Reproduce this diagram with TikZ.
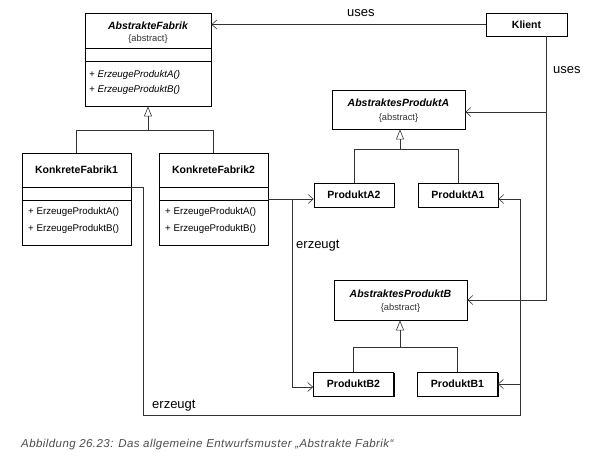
\documentclass[tikz,border=0pt]{standalone}
\usepackage{fontspec}
\setmainfont{Liberation Sans}
\usetikzlibrary{arrows.meta,shadows}
\begin{document}
\begin{tikzpicture}[x=1pt,y=-1pt,
  cls/.style={draw,line width=0.8pt,fill=white,inner sep=0pt},
  shd/.style={cls,drop shadow={shadow xshift=1pt,shadow yshift=-1pt,opacity=1,fill=black}},
  divider/.style={line width=0.8pt},
  title/.style={font=\fontsize{10.5}{12}\selectfont\bfseries,inner sep=0pt},
  stereo/.style={font=\fontsize{9.3}{11}\selectfont,text=black!80,inner sep=0pt},
  oper/.style={font=\fontsize{9.7}{11}\selectfont,anchor=west,inner sep=0pt},
  lbl/.style={font=\fontsize{13}{15}\selectfont,anchor=base west,inner sep=0pt},
  capt/.style={font=\fontsize{11.5}{13}\selectfont\itshape\addfontfeature{LetterSpace=3.7},text=black!70,anchor=base west,inner sep=0pt},
  wire/.style={line width=0.6pt,draw=black!80},
  dep/.style={wire,-{Straight Barb[length=5pt,width=9pt]}},
  gen/.style={wire,-{Triangle[open,length=10pt,width=8pt]}}]
\useasboundingbox (0,0) rectangle (594,470);
\node[cls,minimum width=126pt,minimum height=93pt] (af) at (148,59.5) {};
\node[title] (afname) at (148,26) {\itshape AbstrakteFabrik};
\node[stereo] (afabs) at (148,39) {\{abstract\}};
\draw[divider] (af.west |- 0,48) -- (af.east |- 0,48);
\draw[divider] (af.west |- 0,61) -- (af.east |- 0,61);
\node[oper] (afa) at (89,75) {\itshape + ErzeugeProduktA()};
\node[oper] (afb) at (89,90) {\itshape + ErzeugeProduktB()};
\node[shd,minimum width=109pt,minimum height=92pt] (kf1) at (76.5,199) {};
\node[title] (kf1name) at (76.5,170) {KonkreteFabrik1};
\draw[divider] (kf1.west |- 0,187) -- (kf1.east |- 0,187);
\draw[divider] (kf1.west |- 0,200) -- (kf1.east |- 0,200);
\node[oper] (kf1a) at (28,212) {+ ErzeugeProduktA()};
\node[oper] (kf1b) at (28,229) {+ ErzeugeProduktB()};
\node[cls,minimum width=109pt,minimum height=92pt] (kf2) at (213.5,199) {};
\node[title] (kf2name) at (213.5,170) {KonkreteFabrik2};
\draw[divider] (kf2.west |- 0,187) -- (kf2.east |- 0,187);
\draw[divider] (kf2.west |- 0,200) -- (kf2.east |- 0,200);
\node[oper] (kf2a) at (165,212) {+ ErzeugeProduktA()};
\node[oper] (kf2b) at (165,229) {+ ErzeugeProduktB()};
\node[cls,minimum width=81pt,minimum height=23pt] (kl) at (526.5,24.5) {};
\node[title] (klname) at (526.5,24.5) {Klient};
\node[cls,minimum width=133pt,minimum height=39pt] (apa) at (398.5,109.5) {};
\node[title] (apaname) at (398.5,103) {\itshape AbstraktesProduktA};
\node[stereo] (apaabs) at (398.5,118) {\{abstract\}};
\node[shd,minimum width=80pt,minimum height=24pt] (pa2) at (354,195) {};
\node[title] (pa2name) at (354,195) {ProduktA2};
\node[shd,minimum width=80pt,minimum height=24pt] (pa1) at (458,195) {};
\node[title] (pa1name) at (458,195) {ProduktA1};
\node[cls,minimum width=133pt,minimum height=40pt] (apb) at (400.5,300) {};
\node[title] (apbname) at (400.5,294) {\itshape AbstraktesProduktB};
\node[stereo] (apbabs) at (400.5,308) {\{abstract\}};
\node[shd,minimum width=80pt,minimum height=24pt] (pb2) at (353.5,384) {};
\node[title] (pb2name) at (353.5,384) {ProduktB2};
\node[shd,minimum width=80pt,minimum height=24pt] (pb1) at (457.5,384) {};
\node[title] (pb1name) at (457.5,384) {ProduktB1};
\coordinate (fj) at (148,130);
\coordinate (ga) at (400,149);
\coordinate (gb) at (400,347);
\coordinate (kr) at (546,300);
\coordinate (ka) at (546,112);
\coordinate (e2) at (292,199);
\coordinate (e2b) at (292,387);
\coordinate (e1a) at (143,187);
\coordinate (e1b) at (143,415);
\coordinate (e1c) at (520,415);
\coordinate (e1d) at (520,199);
\coordinate (e1e) at (520,384);
\draw[dep] (kl) -- (kl.west -| af.east);
\draw[dep] (kl.south -| kr) -- (kr) -- (apb.east |- kr);
\draw[dep] (ka) -- (apa.east |- ka);
\draw[wire] (kf1.north) |- (kf2.north |- fj) -- (kf2.north);
\draw[gen] (fj) -- (af.south);
\draw[wire] (pa2.north) |- (pa1.north |- ga) -- (pa1.north);
\draw[gen] (ga) -- (apa.south -| ga);
\draw[wire] (pb2.north) |- (pb1.north |- gb) -- (pb1.north);
\draw[gen] (gb) -- (apb.south -| gb);
\draw[dep] (kf2.east |- e2) -- (pa2.west |- e2);
\draw[dep] (e2) -- (e2b) -- (pb2.west |- e2b);
\draw[dep] (kf1.east |- e1a) -- (e1a) -- (e1b) -- (e1c) -- (e1d) -- (pa1.east |- e1d);
\draw[dep] (e1e) -- (pb1.east |- e1e);
\node[lbl] (uses1) at (347,17) {uses};
\node[lbl] (uses2) at (553,74) {uses};
\node[lbl] (erz2) at (296,249) {erzeugt};
\node[lbl] (erz1) at (152,408) {erzeugt};
\node[capt] (cap) at (21,447) {Abbildung 26.23: Das allgemeine Entwurfsmuster „Abstrakte Fabrik“};
\end{tikzpicture}
\end{document}
